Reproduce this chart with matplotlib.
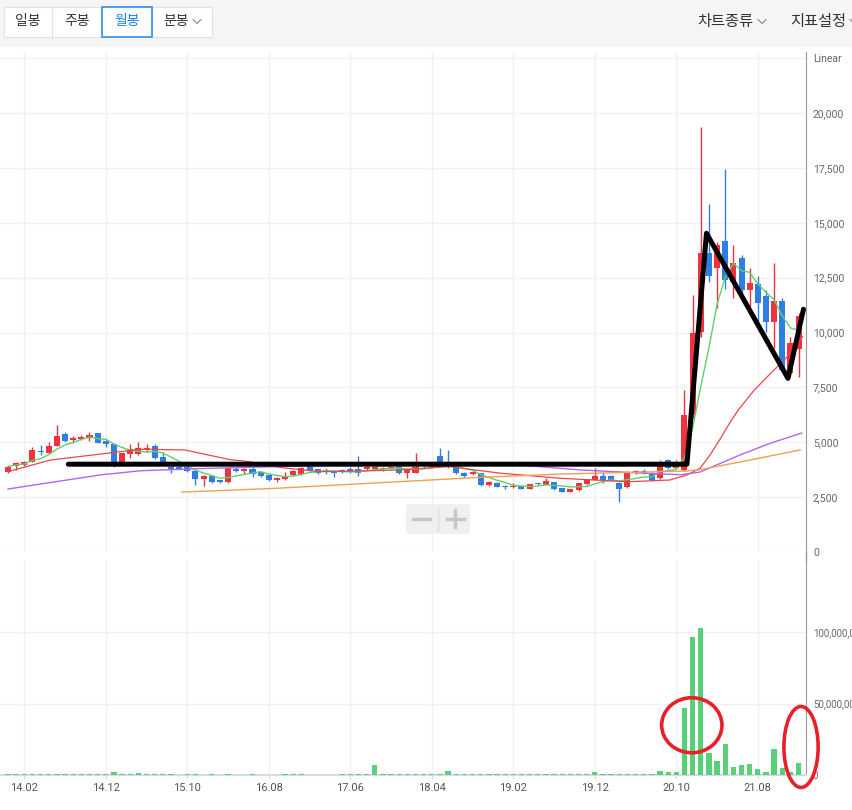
"""
월봉 차트 재현 — 캔들 + 이동평균 + 거래량, 손으로 그린 표시 포함.
"""
import numpy as np
import pandas as pd
import matplotlib.pyplot as plt
from matplotlib.patches import Rectangle, Ellipse, FancyBboxPatch

plt.rcParams['font.family'] = ['Noto Sans CJK KR', 'DejaVu Sans']

# ── 데이터: 월봉 2013.12 ~ 2022.01 (98개) ─────────────────────────────────────
opens = [3630, 3920, 3960, 4100, 4600, 4500, 4840, 5380, 5100, 5130,
         5190, 5410, 5060, 4910, 4090, 4460, 4450, 4680, 4840, 4340,
         3890, 3880, 3850, 3700, 3310, 3460, 3280, 3170, 3780, 3700,
         3770, 3630, 3510, 3280, 3330, 3510, 3550, 3890, 3770, 3700,
         3640, 3700, 3760, 3770, 3780, 3770, 3790, 3800, 3890, 3590,
         3600, 3890, 3880, 4370, 4060, 3890, 3610, 3550, 3590, 3050,
         3160, 3020, 2940, 3020, 2870, 3130, 3050, 3180, 2900, 2750,
         2820, 3080, 3280, 3460, 3460, 3130, 2950, 3610, 3700, 3610,
         3360, 4190, 3810, 3740, 6240, 10040, 13640, 12920, 14170, 12310,
         13380, 11940, 12210, 11660, 10490, 11430, 8140, 9230]
highs = [3950, 4090, 4150, 4780, 4870, 5030, 5790, 5450, 5280, 5330,
         5450, 5440, 5120, 4950, 4520, 4920, 5000, 4920, 4930, 4570,
         4000, 3900, 3880, 3720, 3500, 3520, 3300, 3830, 3850, 3830,
         3850, 3670, 3560, 3420, 3660, 3720, 3880, 3940, 3800, 3810,
         3740, 3780, 3890, 4370, 3930, 3940, 3880, 3900, 3920, 3760,
         4500, 3920, 4120, 4720, 4650, 3950, 3650, 3700, 3620, 3220,
         3200, 3040, 3160, 3050, 3120, 3150, 3380, 3200, 2920, 2890,
         3150, 3330, 3810, 3660, 3500, 3180, 3700, 3740, 3760, 3650,
         4180, 4250, 4200, 7380, 11710, 19380, 15840, 14140, 17440, 13990,
         13530, 12920, 12570, 11940, 13180, 11560, 9800, 10900]
lows = [3600, 3740, 3940, 4080, 4420, 4480, 4820, 5000, 4960, 5080,
        5050, 4950, 4800, 3890, 4060, 4300, 4400, 4570, 4220, 4080,
        3600, 3720, 3640, 3030, 3010, 3130, 3140, 3150, 3650, 3540,
        3420, 3420, 3250, 3200, 3300, 3480, 3530, 3680, 3560, 3550,
        3430, 3600, 3590, 3450, 3740, 3730, 3700, 3760, 3560, 3360,
        3580, 3820, 3860, 3950, 3810, 3560, 3430, 3520, 3000, 3000,
        2950, 2880, 2920, 2850, 2850, 3060, 3040, 2820, 2720, 2730,
        2800, 3060, 3260, 3140, 3220, 2290, 2900, 3560, 3560, 3250,
        3330, 3780, 3790, 3700, 6100, 9810, 12310, 11120, 12000, 11570,
        11700, 11180, 10260, 10040, 9280, 8200, 8000, 7990]
closes = [3890, 4050, 4100, 4650, 4550, 4840, 5300, 5060, 5210, 5250,
          5330, 4980, 4910, 4090, 4500, 4690, 4750, 4730, 4270, 4110,
          3770, 3780, 3670, 3310, 3460, 3200, 3170, 3810, 3700, 3780,
          3540, 3460, 3280, 3390, 3480, 3690, 3840, 3710, 3590, 3680,
          3620, 3680, 3700, 3590, 3890, 3890, 3840, 3850, 3590, 3740,
          3890, 3850, 4100, 4000, 3900, 3590, 3460, 3660, 3050, 3200,
          2980, 2940, 3020, 2870, 3100, 3080, 3250, 2870, 2750, 2870,
          3130, 3310, 3460, 3280, 3250, 2860, 3660, 3700, 3610, 3280,
          4110, 3810, 4050, 6240, 9980, 13640, 12590, 13990, 12390, 13150,
          11940, 12240, 11330, 10490, 11430, 8290, 9510, 10750]
# 거래량 (백만 주)
volumes = [0.5, 0.4, 0.4, 0.6, 0.5, 0.5, 0.7, 0.5, 0.4, 0.4,
           0.5, 0.5, 0.4, 2.2, 0.6, 0.5, 1.1, 0.4, 0.4, 0.4,
           0.4, 0.3, 0.4, 0.4, 0.3, 0.4, 0.3, 0.4, 0.3, 0.3,
           0.4, 0.3, 0.3, 0.3, 0.4, 0.4, 0.4, 0.3, 0.3, 0.3,
           0.3, 0.4, 0.4, 0.9, 0.5, 6.8, 0.5, 0.4, 0.4, 0.4,
           0.5, 0.4, 0.5, 1.0, 2.8, 0.5, 0.4, 0.4, 0.5, 0.4,
           0.4, 0.4, 0.4, 0.4, 0.4, 0.5, 0.7, 0.4, 0.4, 0.4,
           0.9, 0.9, 2.0, 0.5, 0.5, 0.9, 0.9, 0.5, 0.5, 0.5,
           2.8, 2.0, 2.0, 46.6, 96.3, 102.6, 15.2, 9.8, 21.4, 5.8,
           6.8, 7.5, 4.2, 2.1, 18.2, 4.7, 2.3, 8.2]

tick_pos = [2, 12, 22, 32, 42, 52, 62, 72, 82, 92]
tick_labels = ['14.02', '14.12', '15.10', '16.08', '17.06',
               '18.04', '19.02', '19.12', '20.10', '21.08']

# 이동평균선
ma20_x = [0, 5.2, 11.3, 16.2, 21.7, 27.2, 29.7, 33.4, 38.3, 43.2, 48.1,
          54.2, 60.4, 67.7, 76, 81.2, 83.3, 84.9, 86.1, 87.3, 88.5, 89.6,
          91.5, 93.5, 95.5, 97.5]
ma20_y = [3660, 4190, 4460, 4680, 4650, 4210, 4110, 3850, 3660, 3690, 3740,
          3890, 3590, 3360, 3200, 3280, 3510, 3810, 4400, 5100, 5850, 6470,
          7350, 8110, 8850, 9810]
ma60_x = [0, 11.3, 16.2, 23.6, 32.1, 40.7, 51.8, 62.8, 70.2, 77.5, 82.5,
          84.9, 89.8, 93.5, 97.4]
ma60_y = [2870, 3510, 3700, 3800, 3880, 3960, 4040, 3960, 3740, 3600, 3520,
          3640, 4420, 4950, 5420]
ma120_x = [21.3, 32.8, 49.3, 57.9, 67.7, 83.3, 84.9, 89.8, 97.2]
ma120_y = [2730, 2900, 3230, 3400, 3550, 3690, 3750, 4100, 4650]

# 손으로 그린 표시
anno_x = [7.4, 83.3, 85.7, 95.7, 97.6]
anno_y = [4000, 4000, 14520, 7910, 11060]
circ1 = (83.9, 34.8, 7.4, 38.5)    # x, 거래량, 폭, 높이
circ2 = (97.3, 19.6, 4.2, 56.6)

RED = '#f0323e'
BLUE = '#2f7fe3'
VOLC = '#58cf78'
GRID = '#f0f1f4'

W, H = 853, 810
fig = plt.figure(figsize=(W / 100, H / 100), dpi=100)
fig.patch.set_facecolor('white')

def fx(px): return px / W
def fy(py): return 1 - py / H

x = np.arange(len(closes))
o = np.array(opens); c = np.array(closes)
hi = np.array(highs); lo = np.array(lows)
col = np.where(c >= o, RED, BLUE)
xl = (-0.98, 97.91)

# ── 가격 패널 ────────────────────────────────────────────────────────────────
ax = fig.add_axes([0, fy(552), fx(806), (552 - 52) / H])
ax.set_xlim(*xl)
ax.set_ylim(0, 500 / 0.02195)
ax.vlines(x, lo, hi, colors=col, lw=1.0, zorder=3)
ax.bar(x, np.maximum(np.abs(c - o), 40), bottom=np.minimum(o, c),
       width=0.74, color=col, zorder=4)

ma5 = pd.Series(closes).rolling(5, min_periods=1).mean()
ax.plot(x, ma5, color='#5fd06e', lw=1.0, zorder=5)
ax.plot(ma20_x, ma20_y, color='#e8474d', lw=0.9, zorder=5)
ax.plot(ma60_x, ma60_y, color='#b066f0', lw=1.0, zorder=5)
ax.plot(ma120_x, ma120_y, color='#f0a050', lw=1.0, zorder=5)

ax.plot(anno_x, anno_y, color='black', lw=3.6, solid_joinstyle='round',
        solid_capstyle='round', zorder=8)

yt = np.arange(0, 22501, 2500)
ax.set_yticks(yt)
ax.set_yticklabels([f"{v:,}" for v in yt[:-1]] + ['Linear'])
ax.yaxis.tick_right()
ax.tick_params(axis='y', length=0, pad=5, labelsize=7.5, labelcolor='#666')
for lab in ax.get_yticklabels():
    lab.set_family('Roboto')
ax.set_xticks(tick_pos)
ax.tick_params(axis='x', length=0, labelbottom=False)
ax.grid(True, color=GRID, lw=1, zorder=0)
for s in ['top', 'left', 'bottom']:
    ax.spines[s].set_visible(False)
ax.spines['right'].set_color('#999')

# ── 거래량 패널 ──────────────────────────────────────────────────────────────
av = fig.add_axes([0, fy(775), fx(806), (775 - 560) / H])
av.set_xlim(*xl)
av.set_ylim(0, 215 / 1.43)
av.bar(x, volumes, width=0.65, color=VOLC, zorder=3)
av.set_yticks([0, 50, 100])
av.set_yticklabels(['0', '50,000,000', '100,000,000'])
av.yaxis.tick_right()
av.tick_params(axis='y', length=0, pad=5, labelsize=7, labelcolor='#666')
av.set_xticks(tick_pos)
av.set_xticklabels(tick_labels)
av.tick_params(axis='x', length=3, pad=3, color='#d5dbe7', labelsize=8,
               labelcolor='#555')
for lab in av.get_yticklabels() + av.get_xticklabels():
    lab.set_family('Roboto')
av.grid(True, color=GRID, lw=1, zorder=0)
for s in ['top', 'left']:
    av.spines[s].set_visible(False)
av.spines['right'].set_color('#999')
av.spines['bottom'].set_color('#d5dbe7')
av.spines['bottom'].set_linewidth(1.5)

for cx, cy, cw, ch in [circ1, circ2]:
    av.add_patch(Ellipse((cx, cy), cw, ch, fill=False, ec='#e8202a', lw=2.6,
                         zorder=9, clip_on=False))

# ── 상단 메뉴, 확대 버튼 ─────────────────────────────────────────────────────
ov = fig.add_axes([0, 0, 1, 1], zorder=10)
ov.set_xlim(0, W); ov.set_ylim(H, 0); ov.axis('off')
ov.patch.set_alpha(0)
ov.add_patch(Rectangle((0, 0), W, 46, color='#f5f5f5', zorder=1))
ov.plot([806, 806], [552, 560], color='#999', lw=1)

buttons = [(4, 52, '일봉'), (52, 102, '주봉'), (102, 152, '월봉'), (152, 212, '분봉')]
for x0, x1, t in buttons:
    sel = t == '월봉'
    ov.add_patch(Rectangle((x0, 7), x1 - x0, 30, fc='white',
                           ec='#2d8cf0' if sel else '#e2e2e2',
                           lw=1.2 if sel else 0.8, zorder=3 if sel else 2))
    cx = (x0 + x1) / 2 - (6 if t == '분봉' else 0)
    ov.text(cx, 21.5, t, ha='center', va='center', fontsize=10,
            color='#1a7fe8' if sel else '#333', zorder=4)

def chevron(x0, y0):
    ov.plot([x0, x0 + 4, x0 + 8], [y0, y0 + 4, y0], color='#888', lw=0.8, zorder=4)

chevron(193, 19.5)
ov.text(697, 21.5, '차트종류', ha='left', va='center', fontsize=11, color='#333')
chevron(758, 19.5)
ov.text(790, 21.5, '지표설정', ha='left', va='center', fontsize=11, color='#333')
chevron(850, 19.5)

ov.add_patch(FancyBboxPatch((406, 504), 64, 30, boxstyle='round,pad=0,rounding_size=3',
                            fc='#efefef', ec='none', alpha=0.9, zorder=3))
ov.plot([438.5, 438.5], [507, 531], color='#e0e0e0', lw=1, zorder=4)
ov.plot([413, 430], [518.5, 518.5], color='#c6c6c6', lw=2.4, zorder=4)
ov.plot([447, 464], [518.5, 518.5], color='#c6c6c6', lw=2.4, zorder=4)
ov.plot([455.5, 455.5], [510, 527], color='#c6c6c6', lw=2.4, zorder=4)

plt.savefig('out.png', dpi=100)
